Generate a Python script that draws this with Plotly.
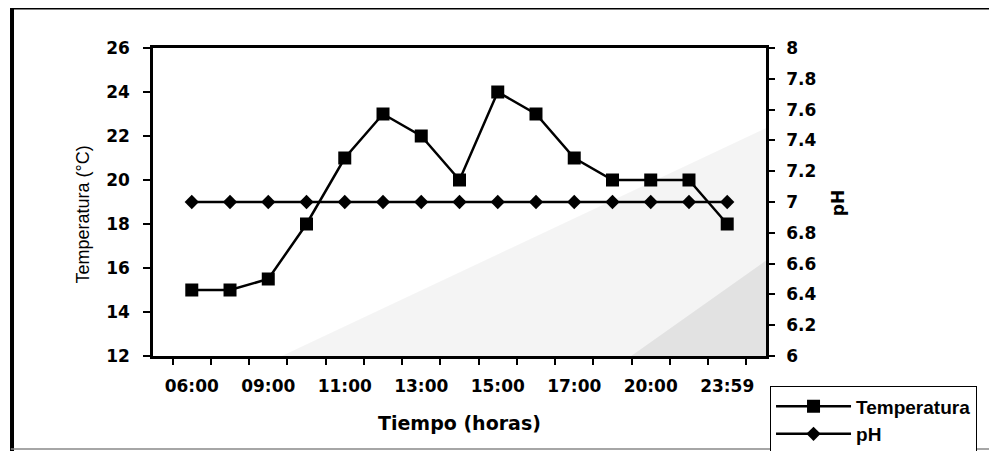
import plotly.graph_objects as go

# ---- data ----
horas = ["06:00", "08:00", "09:00", "10:00", "11:00", "12:00", "13:00", "14:00",
         "15:00", "16:00", "17:00", "18:00", "20:00", "22:00", "23:59"]
temperatura = [15, 15, 15.5, 18, 21, 23, 22, 20, 24, 23, 21, 20, 20, 20, 18]
ph = [7, 7, 7, 7, 7, 7, 7, 7, 7, 7, 7, 7, 7, 7, 7]
etiquetas_x = ["06:00", "", "09:00", "", "11:00", "", "13:00", "", "15:00", "",
               "17:00", "", "20:00", "", "23:59"]
ticks_temp = [12, 14, 16, 18, 20, 22, 24, 26]
ticks_ph = [6, 6.2, 6.4, 6.6, 6.8, 7, 7.2, 7.4, 7.6, 7.8, 8]
ticks_ph_text = ["6", "6.2", "6.4", "6.6", "6.8", "7", "7.2", "7.4", "7.6", "7.8", "8"]

FONT = "DejaVu Sans"
tickfont = dict(family=FONT, size=17, color="black", weight="bold")

fig = go.Figure()
fig.add_trace(go.Scatter(
    x=horas, y=temperatura, name="Temperatura", mode="lines+markers",
    line=dict(color="black", width=2.5),
    marker=dict(symbol="square", size=13, color="black"),
    yaxis="y"))
fig.add_trace(go.Scatter(
    x=horas, y=ph, name="pH", mode="lines+markers",
    line=dict(color="black", width=2.5),
    marker=dict(symbol="diamond", size=11, color="black"),
    yaxis="y2"))

# the page places the figure 8px from the top-left corner, so the figure is 8px smaller
fig.update_layout(
    width=989, height=443,
    margin=dict(l=145, r=231, t=40, b=95, autoexpand=False),
    paper_bgcolor="white", plot_bgcolor="white",
    showlegend=True,
    legend=dict(xref="container", yref="container", x=0.7705, y=0.146,
                xanchor="left", yanchor="top",
                bgcolor="white", bordercolor="black", borderwidth=1,
                font=dict(family="Liberation Sans", size=19, color="black", weight="bold"),
                tracegroupgap=0, itemwidth=75),
    xaxis=dict(type="category", tickmode="array", tickvals=horas, ticktext=etiquetas_x,
               tickson="boundaries", ticks="outside", ticklen=6, tickwidth=1.5,
               tickcolor="black", showline=True, linecolor="black", linewidth=2.5,
               mirror=True, showgrid=False, zeroline=False, tickfont=tickfont,
               ticklabelstandoff=13, tickangle=0, automargin=False),
    yaxis=dict(range=[12, 26], tickvals=ticks_temp, ticks="outside", ticklen=7,
               tickwidth=1.5, tickcolor="black", showline=True, linecolor="black",
               linewidth=2.5, showgrid=False, zeroline=False, tickfont=tickfont,
               ticklabelstandoff=10, automargin=False),
    yaxis2=dict(range=[6, 8], tickvals=ticks_ph, ticktext=ticks_ph_text, overlaying="y",
                side="right", ticks="outside", ticklen=6, tickwidth=1.5,
                tickcolor="black", showline=True, linecolor="black", linewidth=2.5,
                showgrid=False, zeroline=False, tickfont=tickfont,
                ticklabelstandoff=8, automargin=False),
    annotations=[
        dict(text="Temperatura (°C)", xref="paper", yref="paper", x=-0.114, y=0.46,
             textangle=-90, showarrow=False, xanchor="center", yanchor="middle",
             font=dict(family="Liberation Sans", size=18, color="black")),
        dict(text="pH", xref="paper", yref="paper", x=1.117, y=0.495,
             textangle=-90, showarrow=False, xanchor="center", yanchor="middle",
             font=dict(family=FONT, size=17, color="black", weight="bold")),
        dict(text="Tiempo (horas)", xref="paper", yref="paper", x=0.5, y=-0.2175,
             showarrow=False, xanchor="center", yanchor="middle",
             font=dict(family=FONT, size=19, color="black", weight="bold")),
    ],
    shapes=[
        # scan stipple shading
        dict(type="path", xref="paper", yref="paper",
             path="M 0.21 0 L 1 0.74 L 1 0 Z",
             fillcolor="rgba(0,0,0,0.045)", line=dict(width=0), layer="below"),
        dict(type="path", xref="paper", yref="paper",
             path="M 0.78 0 L 1 0.31 L 1 0 Z",
             fillcolor="rgba(0,0,0,0.07)", line=dict(width=0), layer="below"),
        # outer frame
        dict(type="line", xref="paper", yref="paper", x0=-0.230, x1=-0.230, y0=1.135, y1=-0.32,
             line=dict(color="black", width=4)),
        dict(type="line", xref="paper", yref="paper", x0=-0.232, x1=1.4, y0=1.13, y1=1.13,
             line=dict(color="black", width=3)),
        dict(type="line", xref="paper", yref="paper", x0=-0.232, x1=1.4, y0=-0.302, y1=-0.302,
             line=dict(color="#888888", width=1.5)),
    ],
)

fig.write_html("out.html")
